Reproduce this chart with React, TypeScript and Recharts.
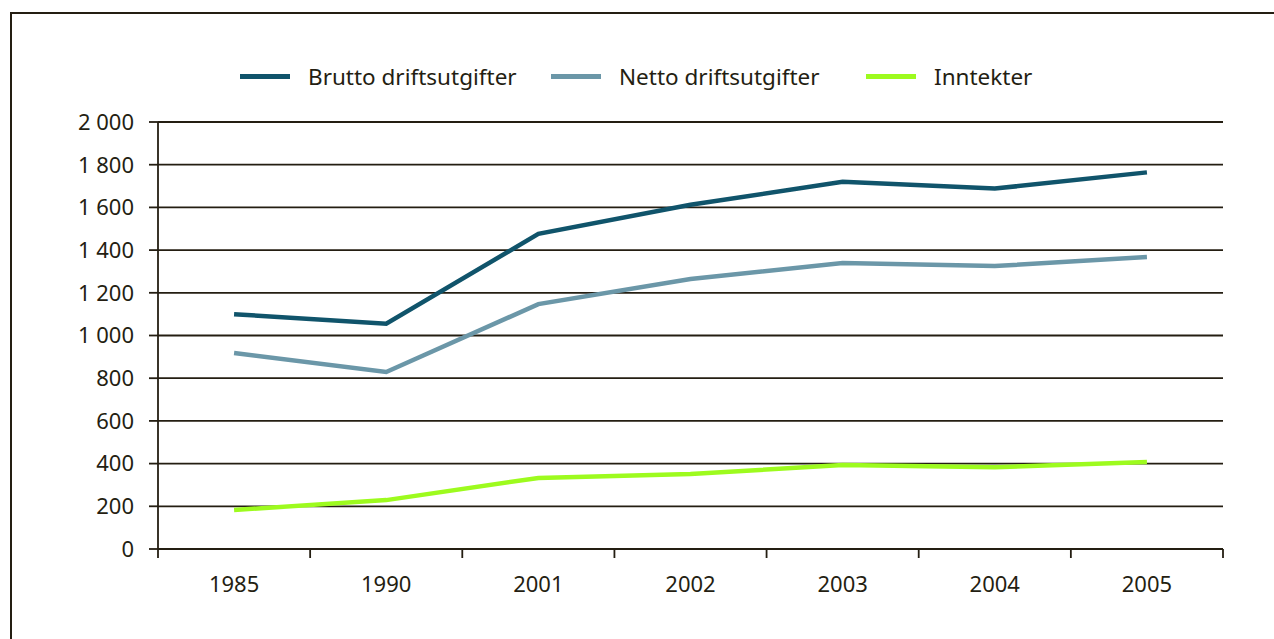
import React from "react";
import { LineChart, Line, XAxis, YAxis, CartesianGrid, Legend } from "recharts";

const years = ["1985", "1990", "2001", "2002", "2003", "2004", "2005"];
const brutto = [1100, 1055, 1476, 1612, 1720, 1688, 1764];
const netto = [918, 829, 1147, 1265, 1340, 1325, 1368];
const inntekter = [183, 229, 333, 351, 393, 383, 407];
const yTicks = [0, 200, 400, 600, 800, 1000, 1200, 1400, 1600, 1800, 2000];

const series = [
  { key: "brutto", label: "Brutto driftsutgifter", color: "#10546b" },
  { key: "netto", label: "Netto driftsutgifter", color: "#6b97a8" },
  { key: "inntekter", label: "Inntekter", color: "#9dfb1e" },
];

const data = years.map((year, i) => ({
  year,
  brutto: brutto[i],
  netto: netto[i],
  inntekter: inntekter[i],
}));

const INK = "#241e12";
const FONT = "'Noto Sans', sans-serif";
const W = 1274;
const H = 639;
const PLOT_LEFT = 158;
const PLOT_RIGHT = 1223;
const PLOT_TOP = 122;
const PLOT_BOTTOM = 549;
const BAND = (PLOT_RIGHT - PLOT_LEFT) / years.length;

const fmt = (v: number) => (v >= 1000 ? `${Math.floor(v / 1000)} ${String(v % 1000).padStart(3, "0")}` : String(v));

function YearTick(props: any) {
  const { x, payload, index } = props;
  const left = x - BAND / 2;
  return (
    <g>
      <line x1={left} x2={left} y1={PLOT_BOTTOM} y2={PLOT_BOTTOM + 9} stroke={INK} strokeWidth={1.8} />
      {index === years.length - 1 && (
        <line x1={x + BAND / 2} x2={x + BAND / 2} y1={PLOT_BOTTOM} y2={PLOT_BOTTOM + 9} stroke={INK} strokeWidth={1.8} />
      )}
      <text x={x} y={PLOT_BOTTOM + 43} textAnchor="middle" fill={INK} fontSize={22} fontFamily={FONT}>
        {payload.value}
      </text>
    </g>
  );
}

function LegendRow() {
  const widths = [311, 315, 200];
  return (
    <div style={{ display: "flex", paddingLeft: 240, fontFamily: FONT, fontSize: 22.5, color: INK }}>
      {series.map((s, i) => (
        <div key={s.key} style={{ width: widths[i], display: "flex", alignItems: "center" }}>
          <span style={{ display: "inline-block", width: 50, height: 5, background: s.color, marginRight: 18 }} />
          <span>{s.label}</span>
        </div>
      ))}
    </div>
  );
}

export default function App() {
  return (
    <div style={{ position: "fixed", inset: 0, overflow: "hidden", background: "#fff" }}>
      <div
        style={{
          position: "absolute",
          left: 10,
          top: 12,
          width: 1400,
          height: 800,
          border: `2px solid ${INK}`,
        }}
      />
      <div style={{ position: "absolute", left: 0, top: 0 }}>
        <LineChart width={W} height={H} data={data} margin={{ top: PLOT_TOP, right: W - PLOT_RIGHT, bottom: 0, left: 0 }}>
          <CartesianGrid vertical={false} stroke={INK} strokeWidth={1.8} />
          <XAxis
            dataKey="year"
            height={H - PLOT_BOTTOM}
            padding={{ left: BAND / 2, right: BAND / 2 }}
            axisLine={{ stroke: INK, strokeWidth: 1.8 }}
            tickLine={false}
            tick={<YearTick />}
            interval={0}
          />
          <YAxis
            width={PLOT_LEFT}
            domain={[0, 2000]}
            ticks={yTicks}
            tickFormatter={fmt}
            axisLine={{ stroke: INK, strokeWidth: 1.8 }}
            tickLine={{ stroke: INK, strokeWidth: 1.8 }}
            tickSize={9}
            tickMargin={15}
            tick={{ fill: INK, fontSize: 22, fontFamily: FONT }}
          />
          <YAxis
            yAxisId="right"
            orientation="right"
            width={0}
            domain={[0, 2000]}
            tick={false}
            tickLine={false}
            axisLine={{ stroke: INK, strokeWidth: 1.8 }}
          />
          <Legend
            layout="horizontal"
            verticalAlign="middle"
            align="center"
            wrapperStyle={{ top: 61, left: 0, width: W }}
            content={() => <LegendRow />}
          />
          {series.map((s) => (
            <Line
              key={s.key}
              type="linear"
              dataKey={s.key}
              name={s.label}
              stroke={s.color}
              strokeWidth={4.5}
              dot={false}
              activeDot={false}
              isAnimationActive={false}
            />
          ))}
        </LineChart>
      </div>
    </div>
  );
}
